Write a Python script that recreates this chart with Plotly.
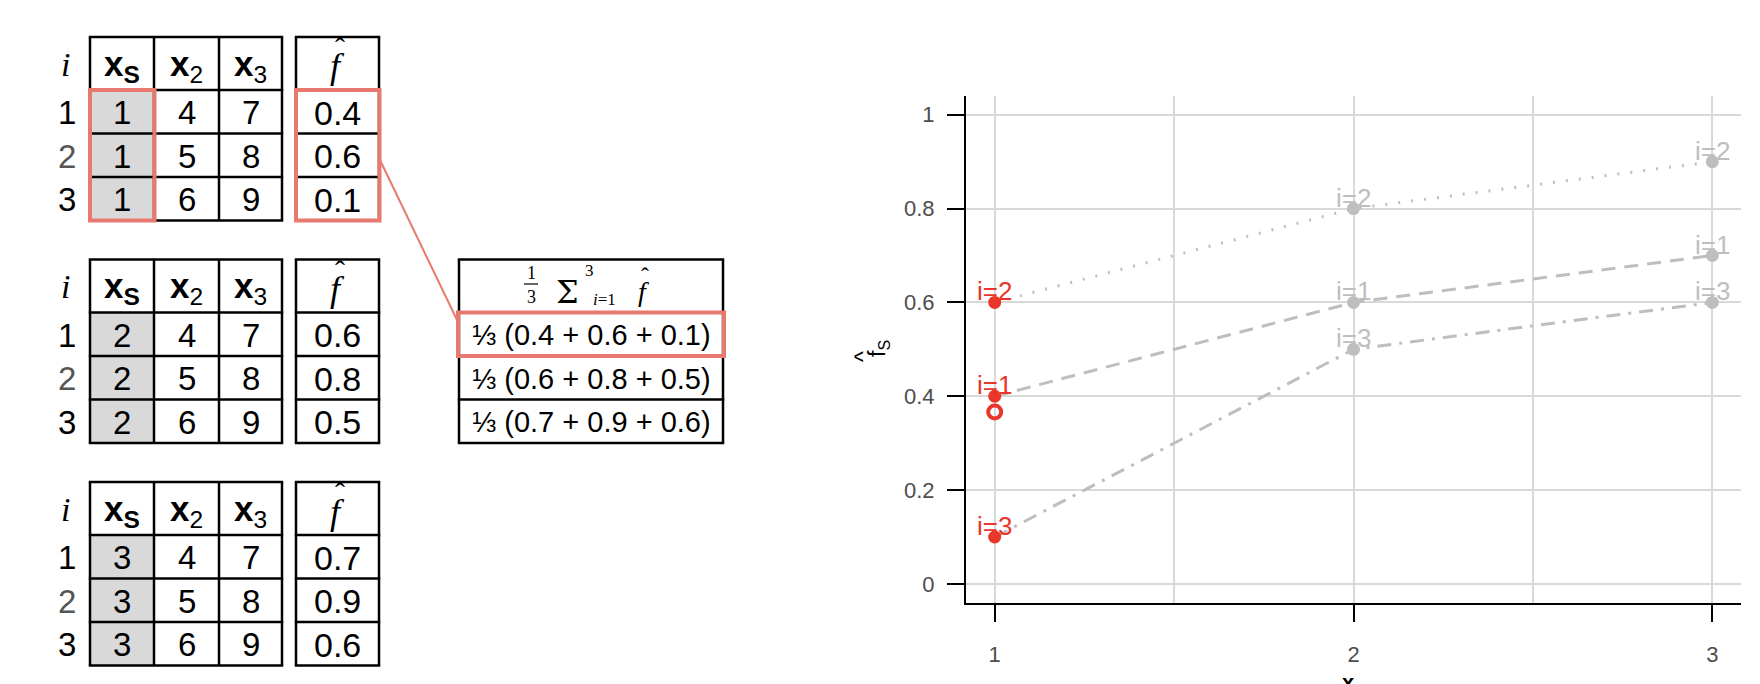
import plotly.graph_objects as go

W, H = 1760, 684

# ---------------- data ----------------
row_ids = [1, 2, 3]
xs_levels = [1, 2, 3]
x2_vals = [4, 5, 6]
x3_vals = [7, 8, 9]
fhat_xs1 = [0.4, 0.6, 0.1]
fhat_xs2 = [0.6, 0.8, 0.5]
fhat_xs3 = [0.7, 0.9, 0.6]
fhat_tables = [fhat_xs1, fhat_xs2, fhat_xs3]
curve_dashes = ["14px,9px", "2px,11px", "14px,8px,3px,8px"]  # i=1, i=2, i=3
y_ticks = [0, 0.2, 0.4, 0.6, 0.8, 1]
y_tick_labels = ["0", "0.2", "0.4", "0.6", "0.8", "1"]
x_ticks = [1, 2, 3]
x_tick_labels = ["1", "2", "3"]
row_label_colors = ["#000000", "#555555", "#000000"]

RED = "#E8362B"
SALMON = "#E8796E"
GRAY = "#BEBEBE"
GRID = "#D9D9D9"
CELL = "#D9D9D9"
SANS = "Liberation Sans, Arial, Helvetica, sans-serif"
SERIF = "Liberation Serif, Times New Roman, serif"


def X(px):
    return px / W


def Y(py):
    return 1 - py / H


shapes = []
annotations = []


def line(x0, y0, x1, y1, color="#000000", width=2.5):
    shapes.append(dict(type="line", xref="paper", yref="paper",
                       x0=X(x0), y0=Y(y0), x1=X(x1), y1=Y(y1),
                       line=dict(color=color, width=width), layer="above"))


def rect(x0, y0, x1, y1, color=None, width=0, fill=None, layer="above"):
    shapes.append(dict(type="rect", xref="paper", yref="paper",
                       x0=X(x0), y0=Y(y0), x1=X(x1), y1=Y(y1),
                       line=dict(color=color or "rgba(0,0,0,0)", width=width),
                       fillcolor=fill or "rgba(0,0,0,0)", layer=layer))


def text(px, py, s, size, color="#000000", family=SANS, xanchor="center",
         yanchor="middle", angle=0):
    annotations.append(dict(xref="paper", yref="paper", x=X(px), y=Y(py),
                            text=s, showarrow=False, xanchor=xanchor,
                            yanchor=yanchor, textangle=angle,
                            font=dict(size=size, color=color, family=family)))


# ---------------- left tables ----------------
main_cols = [90, 154, 219, 282]
fhat_cols = [296, 379]
HEAD_H, ROW_H = 53, 43.5
table_tops = [37, 259.5, 482]

for k, T in enumerate(table_tops):
    rows = [T, T + HEAD_H] + [T + HEAD_H + ROW_H * (r + 1) for r in range(3)]
    rect(main_cols[0], rows[1], main_cols[1], rows[4], fill=CELL, layer="below")
    for ry in rows:
        line(main_cols[0] - 1.2, ry, main_cols[-1] + 1.2, ry)
        line(fhat_cols[0] - 1.2, ry, fhat_cols[-1] + 1.2, ry)
    for cx in main_cols:
        line(cx, rows[0], cx, rows[-1])
    for cx in fhat_cols:
        line(cx, rows[0], cx, rows[-1])
    hy = (rows[0] + rows[1]) / 2
    text(65, hy + 1, "<i>i</i>", 34, family=SERIF)
    text((main_cols[0] + main_cols[1]) / 2, hy + 2, "<b>x<sub>S</sub></b>", 35)
    text((main_cols[1] + main_cols[2]) / 2, hy + 2, "<b>x</b><sub>2</sub>", 35)
    text((main_cols[2] + main_cols[3]) / 2, hy + 2, "<b>x</b><sub>3</sub>", 35)
    fx = (fhat_cols[0] + fhat_cols[1]) / 2
    text(fx, hy + 3, "<i>f</i>", 36, family=SERIF)
    text(fx + 2, hy - 16, "ˆ", 30, family=SERIF)
    for r in range(3):
        cy = (rows[r + 1] + rows[r + 2]) / 2 + 1
        text(67, cy, str(row_ids[r]), 33, color=row_label_colors[r])
        text((main_cols[0] + main_cols[1]) / 2, cy, str(xs_levels[k]), 33)
        text((main_cols[1] + main_cols[2]) / 2, cy, str(x2_vals[r]), 33)
        text((main_cols[2] + main_cols[3]) / 2, cy, str(x3_vals[r]), 33)
        text(fx, cy, f"{fhat_tables[k][r]:.1f}", 34)

# ---------------- middle table ----------------
mid_cols = [459, 723]
MT = table_tops[1]
mid_rows = [MT, MT + HEAD_H] + [MT + HEAD_H + ROW_H * (r + 1) for r in range(3)]
for ry in mid_rows:
    line(mid_cols[0] - 1.2, ry, mid_cols[1] + 1.2, ry)
for cx in mid_cols:
    line(cx, mid_rows[0], cx, mid_rows[-1])
# header: 1/3 sum_{i=1}^{3} f-hat
text(531, 273, "1", 18, family=SERIF)
line(524, 284, 538, 284, width=1.2)
text(531, 297, "3", 18, family=SERIF)
text(567, 292, "Σ", 32, family="DejaVu Serif, serif")
text(589, 271, "3", 17, family=SERIF)
text(604, 299, "<i>i</i>=1", 17, family=SERIF)
text(643, 292, "<i>f</i>", 28, family=SERIF)
text(645, 276, "ˆ", 24, family=SERIF)
for r in range(3):
    cy = (mid_rows[r + 1] + mid_rows[r + 2]) / 2 + 1
    s = "⅓ (" + " + ".join(f"{v:.1f}" for v in fhat_tables[r]) + ")"
    text((mid_cols[0] + mid_cols[1]) / 2, cy, s, 29)

# ---------------- red highlights ----------------
t1 = table_tops[0]
rect(main_cols[0], t1 + HEAD_H, main_cols[1] + 0.5, t1 + HEAD_H + 3 * ROW_H, color=SALMON, width=4)
rect(fhat_cols[0], t1 + HEAD_H, fhat_cols[1] + 0.5, t1 + HEAD_H + 3 * ROW_H, color=SALMON, width=4)
rect(mid_cols[0] - 1, mid_rows[1], mid_cols[1] + 1, mid_rows[2], color=SALMON, width=4)
line(380, 160, 458, 322, color=SALMON, width=2)

# ---------------- ICE plot ----------------
fig = go.Figure()
n_obs = len(row_ids)
for i in range(n_obs):
    ys = [fhat_tables[k][i] for k in range(len(xs_levels))]
    fig.add_trace(go.Scatter(x=xs_levels, y=ys, mode="lines",
                             line=dict(color=GRAY, width=3, dash=curve_dashes[i]),
                             hoverinfo="skip", showlegend=False))
for i in range(n_obs):
    ys = [fhat_tables[k][i] for k in range(len(xs_levels))]
    colors = [RED if k == 0 else GRAY for k in range(len(xs_levels))]
    fig.add_trace(go.Scatter(x=xs_levels, y=ys, mode="markers",
                             marker=dict(color=colors, size=13),
                             showlegend=False))
    for k in range(len(xs_levels)):
        annotations.append(dict(x=xs_levels[k], y=ys[k], xref="x", yref="y",
                                text=f"i={row_ids[i]}", showarrow=False,
                                yshift=11, font=dict(size=26, color=colors[k], family=SANS)))
pd_first = sum(fhat_tables[0]) / len(fhat_tables[0])
fig.add_trace(go.Scatter(x=[xs_levels[0]], y=[pd_first], mode="markers",
                         marker=dict(symbol="circle-open", size=13, color=RED,
                                     line=dict(color=RED, width=4)),
                         showlegend=False))

# axis titles
text(879, 349, "f<sub>S</sub>", 23, angle=-90)
text(863, 357, "^", 23, angle=-90)
text(1353, 668, "<b>x</b><sub>S</sub>", 22, yanchor="top")

fig.update_layout(
    width=W, height=H,
    margin=dict(l=0, r=0, t=0, b=0),
    paper_bgcolor="white", plot_bgcolor="white",
    shapes=shapes, annotations=annotations,
    xaxis=dict(domain=[X(966), X(1741)], range=[0.92, 3.08],
               tickvals=x_ticks, ticktext=x_tick_labels,
               showgrid=True, gridcolor=GRID, gridwidth=1.5,
               minor=dict(dtick=0.5, tick0=0, showgrid=True, gridcolor=GRID, gridwidth=1.5),
               showline=True, linecolor="black", linewidth=2,
               ticks="outside", ticklen=17, tickwidth=2, tickcolor="black",
               ticklabelstandoff=14,
               zeroline=False, fixedrange=True,
               tickfont=dict(size=22, color="#4D4D4D", family=SANS)),
    yaxis=dict(domain=[Y(602.7), Y(96)], range=[-0.04, 1.04],
               tickvals=y_ticks, ticktext=y_tick_labels,
               showgrid=True, gridcolor=GRID, gridwidth=1.5,
               showline=True, linecolor="black", linewidth=2,
               ticks="outside", ticklen=17, tickwidth=2, tickcolor="black",
               ticklabelstandoff=8,
               zeroline=False, fixedrange=True,
               tickfont=dict(size=22, color="#4D4D4D", family=SANS)),
)

fig.write_html("out.html", post_script="document.body.style.margin='0px';",
               config={"displayModeBar": False})
